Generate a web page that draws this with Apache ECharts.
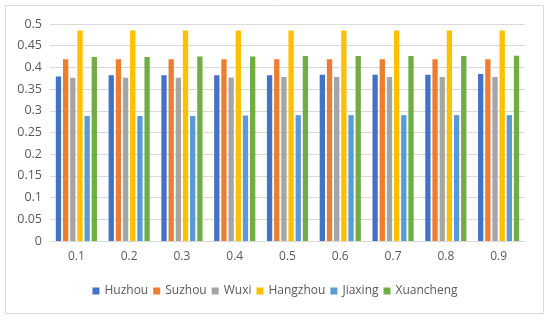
<!DOCTYPE html>
<html><head><meta charset="utf-8">
<script src="https://cdn.jsdelivr.net/npm/echarts@6/dist/echarts.min.js"></script>
<style>html,body{margin:0;padding:0;background:#fff}#c{width:550px;height:320px}</style>
</head><body><div id="c"></div>
<script>
const categories = ['0.1','0.2','0.3','0.4','0.5','0.6','0.7','0.8','0.9'];
const seriesNames = ['Huzhou','Suzhou','Wuxi','Hangzhou','Jiaxing','Xuancheng'];
const huzhou    = [0.379,0.382,0.382,0.382,0.382,0.383,0.383,0.383,0.385];
const suzhou    = [0.419,0.419,0.419,0.419,0.419,0.419,0.419,0.419,0.419];
const wuxi      = [0.376,0.376,0.376,0.377,0.378,0.378,0.378,0.378,0.378];
const hangzhou  = [0.485,0.485,0.485,0.485,0.485,0.485,0.485,0.485,0.485];
const jiaxing   = [0.288,0.288,0.288,0.289,0.290,0.290,0.290,0.290,0.290];
const xuancheng = [0.424,0.424,0.425,0.425,0.426,0.426,0.426,0.426,0.427];
const colors = ['#4472C4','#ED7D31','#A5A5A5','#FFC000','#5B9BD5','#70AD47'];
const allData = [huzhou,suzhou,wuxi,hangzhou,jiaxing,xuancheng];

const chart = echarts.init(document.getElementById('c'));
const font = 'Open Sans';
chart.setOption({
  animation:false,
  graphic:[{type:'rect',shape:{x:5.5,y:5.5,width:538,height:308},style:{fill:'none',stroke:'#d9d9d9',lineWidth:1}}],
  grid:{left:50,right:25,top:24,bottom:79},
  legend:{bottom:18,itemWidth:7,itemHeight:7,itemGap:5,icon:'rect',
    textStyle:{color:'#595959',fontSize:12,fontFamily:font}},
  xAxis:{type:'category',data:categories,
    axisLine:{lineStyle:{color:'#d9d9d9'}},axisTick:{show:false},
    axisLabel:{color:'#595959',fontSize:12,fontFamily:font,margin:10}},
  yAxis:{type:'value',min:0,max:0.5,interval:0.05,
    axisLine:{show:false},axisTick:{show:false},
    splitLine:{lineStyle:{color:'#d9d9d9'}},
    axisLabel:{color:'#595959',fontSize:12.5,fontFamily:font,margin:8,
      formatter:v=>String(+v.toFixed(2))}},
  series:seriesNames.map((n,i)=>({name:n,type:'bar',data:allData[i],
    itemStyle:{color:colors[i]},barGap:'35%',barCategoryGap:'22%'}))
});
</script></body></html>
